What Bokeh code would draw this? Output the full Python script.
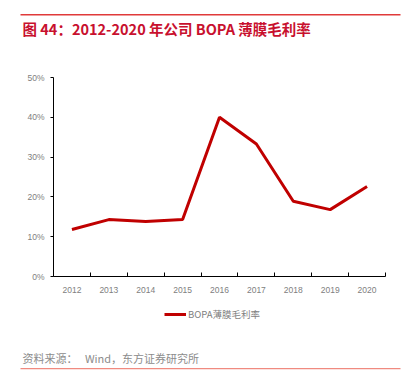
from bokeh.plotting import figure
from bokeh.models import (FixedTicker, Range1d, Legend, LegendItem, Label, BoxAnnotation,
                          CustomJSTickFormatter, PrintfTickFormatter, ColumnDataSource)
from bokeh.embed import file_html
from bokeh.resources import INLINE

years = ["2012", "2013", "2014", "2015", "2016", "2017", "2018", "2019", "2020"]
margin_pct = [11.8, 14.3, 13.8, 14.3, 40.0, 33.3, 18.9, 16.8, 22.6]
y_ticks = [0, 10, 20, 30, 40, 50]
series_name = "BOPA薄膜毛利率"
title_text = "图 44：2012-2020 年公司 BOPA 薄膜毛利率"
source_text = "资料来源：\u00a0\u00a0 Wind，东方证券研究所"

# canvas geometry (pixels): plot area for the data spans these pixel positions
W, H = 411, 379
PX_X0, PX_X1 = 53.0, 385.0      # category 0 .. 9 boundaries
PX_Y0, PX_Y1 = 276.0, 77.0      # 0% .. 50%
n = len(years)
kx = (PX_X1 - PX_X0) / n
ky = (PX_Y0 - PX_Y1) / 50.0

def px_x(px):
    return (px - PX_X0) / kx

def px_y(py):
    return (PX_Y0 - py) / ky

xs = [i + 0.5 for i in range(n)]
src = ColumnDataSource(dict(x=xs, y=margin_pct))

p = figure(width=W, height=H, output_backend="svg", toolbar_location=None,
           x_range=Range1d(px_x(0), px_x(W)), y_range=Range1d(px_y(H), px_y(0)),
           min_border=0, min_border_left=0, min_border_right=0,
           min_border_top=0, min_border_bottom=0)
p.outline_line_color = None
p.xgrid.visible = False
p.ygrid.visible = False

r = p.line("x", "y", source=src, line_color="#c00000", line_width=3)

label_map = {str(x): y for x, y in zip(xs, years)}
p.xaxis.fixed_location = 0
p.xaxis.bounds = (0, n)
p.xaxis.ticker = FixedTicker(ticks=xs, minor_ticks=list(range(n + 1)))
p.xaxis.formatter = CustomJSTickFormatter(args=dict(m=label_map),
                                          code="return m[String(tick)] || '';")
p.xaxis.major_tick_in = 0
p.xaxis.major_tick_out = 0
p.xaxis.minor_tick_in = 4
p.xaxis.minor_tick_out = 0
p.xaxis.minor_tick_line_color = "black"
p.xaxis.major_label_standoff = 10

p.yaxis.fixed_location = 0
p.yaxis.bounds = (0, 50)
p.yaxis.ticker = FixedTicker(ticks=y_ticks, minor_ticks=[])
p.yaxis.formatter = PrintfTickFormatter(format="%d%%")
p.yaxis.major_tick_in = 0
p.yaxis.major_tick_out = 3
p.yaxis.major_label_standoff = 6

for ax in (p.xaxis, p.yaxis):
    ax.axis_line_color = "black"
    ax.axis_line_width = 1
    ax.major_tick_line_color = "black"
    ax.major_label_text_color = "#808080"
    ax.major_label_text_font = "Liberation Sans"
    ax.major_label_text_font_size = "8.5px"

# header rule and title
p.add_layout(BoxAnnotation(left=px_x(20), right=px_x(400), top=px_y(13.5), bottom=px_y(15),
                           fill_color="#e03a3a", fill_alpha=1, line_color=None))
p.add_layout(Label(x=px_x(22), y=px_y(27.5), text=title_text, text_color="#c8102e",
                   text_font="Noto Sans CJK SC", text_font_size="14.5px",
                   text_font_style="bold", text_baseline="middle"))

# source and footer rule
p.add_layout(Label(x=px_x(22), y=px_y(357), text=source_text, text_color="#8c8c8c",
                   text_font="Noto Sans CJK SC", text_font_size="11px",
                   text_baseline="middle"))
p.add_layout(BoxAnnotation(left=px_x(20), right=px_x(400), top=px_y(367.5), bottom=px_y(368.7),
                           fill_color="#f08a80", fill_alpha=1, line_color=None))

legend = Legend(items=[LegendItem(label=series_name, renderers=[r])],
                location=(164, H - 321), padding=0, margin=0, spacing=0,
                glyph_width=22, glyph_height=10, label_standoff=2, label_height=10,
                label_text_font="Noto Sans CJK SC", label_text_font_size="9.5px",
                label_text_color="#7f7f7f", background_fill_alpha=0,
                border_line_color=None)
p.add_layout(legend)

open("out.html", "w").write(file_html(p, INLINE))
